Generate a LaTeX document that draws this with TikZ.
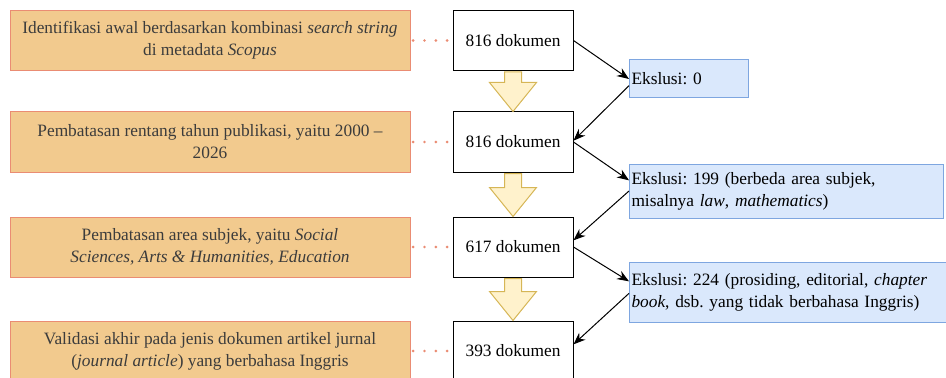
\documentclass[tikz,border=0pt]{standalone}
\usepackage{fontspec}
\setmainfont{Liberation Serif}
\frenchspacing
\usetikzlibrary{calc,arrows.meta}

\definecolor{tahapfill}{HTML}{F2CA8E}
\definecolor{tahapline}{HTML}{EA8C73}
\definecolor{tahaptext}{HTML}{3C3C3C}
\definecolor{eksfill}{HTML}{DAE8FC}
\definecolor{eksline}{HTML}{7EA6E0}
\definecolor{panahfill}{HTML}{FFF2CC}
\definecolor{panahline}{HTML}{D6B656}

\begin{document}
\begin{tikzpicture}[x=0.75pt,y=-0.75pt,>={Stealth[length=9pt,width=7pt]},line width=0.75pt,
    tahap/.style={draw=tahapline,fill=tahapfill,text=tahaptext,minimum width=300pt,minimum height=45pt,align=center,inner sep=0pt,font=\fontsize{13}{16.5}\selectfont},
    dok/.style={draw,fill=white,minimum width=90pt,minimum height=45pt,inner sep=0pt,font=\fontsize{13}{16.5}\selectfont},
    ekslusi/.style={draw=eksline,fill=eksfill,anchor=west,align=left,inner xsep=1.5pt,inner ysep=0pt,font=\fontsize{13}{16.5}\selectfont},
    titik/.style={draw=tahapline,line width=2.2pt,line cap=round,dash pattern=on 0pt off 8.5pt,shorten <=2pt},
    panah/.style={draw=panahline,fill=panahfill}]

    \useasboundingbox (0,0) rectangle (946,378);
    \clip (0,0) rectangle (946,378);

    % jumlah dokumen
    \node (d1) [dok] at (513,40.5){816 dokumen};
    \node (d2) [dok] at ($(d1)+(0,101.5)$){816 dokumen};
    \node (d3) [dok] at ($(d2)+(0,105)$){617 dokumen};
    \node (d4) [dok] at ($(d3)+(0,104)$){393 dokumen};

    % tahap seleksi
    \node (t1) [tahap] at ($(d1)+(-303,0)$){Identifikasi awal berdasarkan kombinasi \textit{search string}\\di metadata \textit{Scopus}};
    \node (t2) [tahap] at ($(d2)+(-303,0)$){Pembatasan rentang tahun publikasi, yaitu 2000 \textendash\\2026};
    \node (t3) [tahap] at ($(d3)+(-303,0)$){Pembatasan area subjek, yaitu \textit{Social}\\\textit{Sciences, Arts \& Humanities, Education}};
    \node (t4) [tahap] at ($(d4)+(-303,0)$){Validasi akhir pada jenis dokumen artikel jurnal\\(\textit{journal article}) yang berbahasa Inggris};

    % ekslusi
    \node (e1) [ekslusi,text width=86pt,minimum height=28.5pt] at (629,79){Ekslusi: 0};
    \node (e2) [ekslusi,text width=232.5pt,minimum height=40.5pt] at (629,191){Ekslusi: 199 (berbeda area subjek,\\misalnya \textit{law}, \textit{mathematics})};
    \node (e3) [ekslusi,text width=240pt,minimum height=45pt] at (629,292){Ekslusi: 224 (prosiding, editorial, \textit{chapter}\\\textit{book}, dsb. yang tidak berbahasa Inggris)};

    \foreach \a in {1,2,3,4}
        \draw[titik] (t\a.east) -- (d\a.west);

    \foreach \a/\b in {d1/d2,d2/d3,d3/d4}
        \draw[panah] ($(\a.south)+(-8.5,1)$) -- ($(\a.south)+(8.5,1)$) -- ($(\b.north)+(8.5,-29)$) -- ($(\b.north)+(23.5,-29)$) -- (\b.north) -- ($(\b.north)+(-23.5,-29)$) -- ($(\b.north)+(-8.5,-29)$) -- cycle;

    \path[->]
        (d1.east) edge (e1.west)
        ([yshift=-5pt]e1.west) edge ([yshift=1pt]d2.east)

        (d2.east) edge ([yshift=8pt]e2.west)
        (e2.west) edge ([yshift=5pt]d3.east)

        (d3.east) edge ([yshift=8pt]e3.west)
        ([yshift=-1pt]e3.west) edge ([yshift=5pt]d4.east)
    ;
\end{tikzpicture}
\end{document}
